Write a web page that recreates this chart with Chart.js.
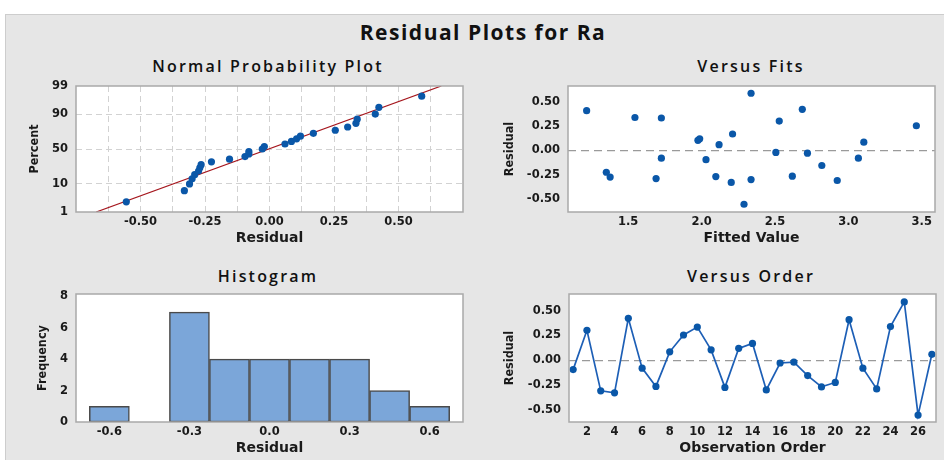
<!DOCTYPE html>
<html>
<head>
<meta charset="utf-8">
<script src="https://cdn.jsdelivr.net/npm/chart.js@4/dist/chart.umd.min.js"></script>
<style>
html,body{margin:0;padding:0;background:#fff;width:944px;height:460px;overflow:hidden;font-family:'Open Sans',sans-serif;}
#frame{position:absolute;left:5px;top:14px;width:939px;height:446px;background:#e6e6e6;border-top:1px solid #cdcdcd;border-left:1px solid #cdcdcd;box-sizing:border-box;}
.t{position:absolute;transform:translate(-50%,-50%);white-space:nowrap;color:#111;line-height:1;}
.main{font-size:21px;font-weight:700;letter-spacing:1.5px;}
.pt{font-size:16px;font-weight:600;letter-spacing:2.2px;}
canvas{position:absolute;}
</style>
</head>
<body>
<div id="frame"></div>
<div class="t main" style="left:483px;top:32px">Residual Plots for Ra</div>
<div class="t pt" style="left:268px;top:66px">Normal Probability Plot</div>
<div class="t pt" style="left:751px;top:66px">Versus Fits</div>
<div class="t pt" style="left:268px;top:276px">Histogram</div>
<div class="t pt" style="left:751px;top:276px">Versus Order</div>
<canvas id="c1" width="470" height="200" style="left:0px;top:50px;width:470px;height:200px"></canvas>
<canvas id="c2" width="474" height="200" style="left:470px;top:50px;width:474px;height:200px"></canvas>
<canvas id="c3" width="470" height="200" style="left:0px;top:260px;width:470px;height:200px"></canvas>
<canvas id="c4" width="474" height="200" style="left:470px;top:260px;width:474px;height:200px"></canvas>
<script>
// ---------- data ----------
const observations = [1,2,3,4,5,6,7,8,9,10,11,12,13,14,15,16,17,18,19,20,21,22,23,24,25,26,27];
const residuals = [-0.095,0.303,-0.31,-0.33,0.424,-0.08,-0.265,0.085,0.255,0.335,0.105,-0.275,0.12,0.17,-0.30,-0.028,-0.02,-0.155,-0.27,-0.225,0.41,-0.08,-0.29,0.34,0.59,-0.555,0.06];
const fittedValues = [2.03,2.529,2.924,2.202,2.686,1.726,2.618,3.105,3.463,1.726,1.975,1.377,1.987,2.211,2.337,2.721,2.506,2.819,2.097,1.351,1.217,3.068,1.690,1.546,2.337,2.289,2.119];
const histBinCenters = [-0.6,-0.45,-0.3,-0.15,0,0.15,0.3,0.45,0.6];
const histCounts = [1,0,7,4,4,4,4,2,1];

// ---------- tick labels ----------
const percentTicks = [1,10,50,90,99];
const normalXGrid = [-0.625,-0.5,-0.375,-0.25,-0.125,0,0.125,0.25,0.375,0.5,0.625];
const normalXLabels = [-0.5,-0.25,0,0.25,0.5];
const residualTicks = [-0.5,-0.25,0,0.25,0.5];
const fittedTicks = [1.5,2.0,2.5,3.0,3.5];
const histXTicks = [-0.6,-0.3,0,0.3,0.6];
const histYTicks = [0,2,4,6,8];
const orderTicks = [2,4,6,8,10,12,14,16,18,20,22,24,26];

// ---------- helpers ----------
function probit(p){
  const a=[-3.969683028665376e+01,2.209460984245205e+02,-2.759285104469687e+02,1.383577518672690e+02,-3.066479806614716e+01,2.506628277459239e+00];
  const b=[-5.447609879822406e+01,1.615858368580409e+02,-1.556989798598866e+02,6.680131188771972e+01,-1.328068155288572e+01];
  const c=[-7.784894002430293e-03,-3.223964580411365e-01,-2.400758277161838e+00,-2.549732539343734e+00,4.374664141464968e+00,2.938163982698783e+00];
  const d=[7.784695709041462e-03,3.224671290700398e-01,2.445134137142996e+00,3.754408661907416e+00];
  const pl=0.02425, ph=1-pl; let q,r;
  if(p<pl){q=Math.sqrt(-2*Math.log(p));return (((((c[0]*q+c[1])*q+c[2])*q+c[3])*q+c[4])*q+c[5])/((((d[0]*q+d[1])*q+d[2])*q+d[3])*q+1);}
  if(p<=ph){q=p-0.5;r=q*q;return (((((a[0]*r+a[1])*r+a[2])*r+a[3])*r+a[4])*r+a[5])*q/(((((b[0]*r+b[1])*r+b[2])*r+b[3])*r+b[4])*r+1);}
  q=Math.sqrt(-2*Math.log(1-p));return -(((((c[0]*q+c[1])*q+c[2])*q+c[3])*q+c[4])*q+c[5])/((((d[0]*q+d[1])*q+d[2])*q+d[3])*q+1);
}
const n = residuals.length;
const sortedRes = residuals.slice().sort((x,y)=>x-y);
// Benard median-rank plotting positions on a normal-probability scale
const normalPoints = sortedRes.map((r,i)=>({x:r, y:probit((i+1-0.3)/(n+0.4))}));
const mean = residuals.reduce((s,v)=>s+v,0)/n;
const sd = Math.sqrt(residuals.reduce((s,v)=>s+(v-mean)*(v-mean),0)/(n-1));
const zLo = probit(percentTicks[0]/100), zHi = probit(percentTicks[percentTicks.length-1]/100);
const normalLine = [{x:mean+sd*zLo,y:zLo},{x:mean+sd*zHi,y:zHi}];
const fitsPoints = fittedValues.map((f,i)=>({x:f,y:residuals[i]}));
const orderPoints = observations.map((o,i)=>({x:o,y:residuals[i]}));
const histData = histBinCenters.map((c,i)=>({x:c,y:histCounts[i]}));

// ---------- styling ----------
const tickFont = {family:'DejaVu Sans',size:11.5,weight:'700'};
const xTitleFont = {family:'DejaVu Sans',size:14,weight:'700'};
const yTitleFont = {family:"'Liberation Sans Narrow','DejaVu Sans Condensed','Open Sans'",size:12.5,weight:'700'};
const TXT = '#1a1a1a';
const POINT = '#0a57a8';

const framePlugin = {
  id:'frame',
  beforeDraw(chart){
    const {ctx, chartArea:a} = chart;
    ctx.save(); ctx.fillStyle='#ffffff'; ctx.fillRect(a.left,a.top,a.width,a.height); ctx.restore();
  },
  afterDraw(chart){
    const {ctx, chartArea:a} = chart;
    ctx.save(); ctx.strokeStyle='#a9a9a9'; ctx.lineWidth=1.5;
    ctx.strokeRect(a.left,a.top,a.width,a.height); ctx.restore();
  }
};

function xTicks(cb){return {autoSkip:false,maxRotation:0,padding:3.1,font:tickFont,color:TXT,callback:cb};}
function yTicks(cb){return {autoSkip:false,padding:8,font:tickFont,color:TXT,callback:cb};}
function xScale(o){
  return Object.assign({
    type:'linear',
    afterFit:s=>{s.height=38;},
    grid:{display:false,drawTicks:false},
    border:{display:false},
    title:{display:true,text:o.title,font:xTitleFont,color:TXT,padding:{top:0,bottom:2.9}}
  }, o.extra||{});
}
function yScale(o){
  return Object.assign({
    type:'linear',
    afterFit:s=>{s.width=o.width;},
    grid:{display:false,drawTicks:false},
    border:{display:false},
    title:{display:true,text:o.title,font:yTitleFont,color:TXT,padding:{top:o.tpad,bottom:0}}
  }, o.extra||{});
}
const base = {responsive:false,animation:false,events:[],plugins:{legend:{display:false},tooltip:{enabled:false}}};
const zeroLineGrid = {display:true,drawTicks:false,lineWidth:1.2,
  color:c=>(c.tick&&Math.abs(c.tick.value)<1e-9)?'#9a9a9a':'rgba(0,0,0,0)'};

// ---------- Normal probability plot ----------
new Chart(document.getElementById('c1'),{
  type:'scatter',
  data:{datasets:[
    {data:normalPoints,backgroundColor:POINT,borderColor:POINT,borderWidth:0,pointRadius:3.6},
    {data:normalLine,showLine:true,borderColor:'#a5161d',borderWidth:1.2,pointRadius:0}
  ]},
  options:Object.assign({},base,{
    layout:{padding:{left:0,top:36,right:7,bottom:0}},
    scales:{
      x:xScale({title:'Residual',extra:{
        min:-0.75,max:0.75,
        afterBuildTicks:s=>{s.ticks=normalXGrid.map(v=>({value:v}));},
        ticks:xTicks(v=>normalXLabels.some(l=>Math.abs(l-v)<1e-9)?v.toFixed(2):''),
        grid:{display:true,drawTicks:false,color:'#d2d2d2',lineWidth:1},
        border:{display:false,dash:[6,4]}
      }}),
      y:yScale({title:'Percent',width:76,tpad:27.5,extra:{
        min:zLo,max:zHi,
        afterBuildTicks:s=>{s.ticks=percentTicks.map(p=>({value:probit(p/100)}));},
        ticks:yTicks((v,i)=>String(percentTicks[i])),
        grid:{display:true,drawTicks:false,lineWidth:1,
          color:c=>(c.index===0||c.index===percentTicks.length-1)?'rgba(0,0,0,0)':'#d2d2d2'},
        border:{display:false,dash:[6,4]}
      }})
    }
  }),
  plugins:[framePlugin]
});

// ---------- Versus fits ----------
new Chart(document.getElementById('c2'),{
  type:'scatter',
  data:{datasets:[
    {data:fitsPoints,backgroundColor:POINT,borderColor:POINT,borderWidth:0,pointRadius:3.6}
  ]},
  options:Object.assign({},base,{
    layout:{padding:{left:0,top:36,right:9,bottom:0}},
    scales:{
      x:xScale({title:'Fitted Value',extra:{
        min:1.09,max:3.59,
        afterBuildTicks:s=>{s.ticks=fittedTicks.map(v=>({value:v}));},
        ticks:xTicks(v=>v.toFixed(1))
      }}),
      y:yScale({title:'Residual',width:98,tpad:32.5,extra:{
        min:-0.635,max:0.665,
        afterBuildTicks:s=>{s.ticks=residualTicks.map(v=>({value:v}));},
        ticks:yTicks(v=>v.toFixed(2)),
        grid:zeroLineGrid,
        border:{display:false,dash:[8,5]}
      }})
    }
  }),
  plugins:[framePlugin]
});

// ---------- Histogram ----------
new Chart(document.getElementById('c3'),{
  type:'bar',
  data:{datasets:[
    {data:histData,backgroundColor:'#7ba6d9',borderColor:'#4a4a4a',borderWidth:1.5,borderSkipped:false,
     barPercentage:1.0,categoryPercentage:1.0}
  ]},
  options:Object.assign({},base,{
    layout:{padding:{left:0,top:34,right:7,bottom:0}},
    scales:{
      x:xScale({title:'Residual',extra:{
        min:-0.725,max:0.725,offset:false,
        afterBuildTicks:s=>{s.ticks=histXTicks.map(v=>({value:v}));},
        ticks:xTicks(v=>v.toFixed(1))
      }}),
      y:yScale({title:'Frequency',width:76,tpad:35.5,extra:{
        min:0,max:8.15,
        afterBuildTicks:s=>{s.ticks=histYTicks.map(v=>({value:v}));},
        ticks:yTicks(v=>String(v))
      }})
    }
  }),
  plugins:[framePlugin]
});

// ---------- Versus order ----------
new Chart(document.getElementById('c4'),{
  type:'scatter',
  data:{datasets:[
    {data:orderPoints,showLine:true,borderColor:'#1d5fb6',borderWidth:1.7,
     pointBackgroundColor:POINT,pointBorderColor:POINT,pointBorderWidth:0,pointRadius:3.6}
  ]},
  options:Object.assign({},base,{
    layout:{padding:{left:0,top:34,right:8,bottom:0}},
    scales:{
      x:xScale({title:'Observation Order',extra:{
        min:0.7,max:27.3,
        afterBuildTicks:s=>{s.ticks=orderTicks.map(v=>({value:v}));},
        ticks:xTicks(v=>String(v))
      }}),
      y:yScale({title:'Residual',width:99,tpad:32.5,extra:{
        min:-0.625,max:0.67,
        afterBuildTicks:s=>{s.ticks=residualTicks.map(v=>({value:v}));},
        ticks:yTicks(v=>v.toFixed(2)),
        grid:zeroLineGrid,
        border:{display:false,dash:[8,5]}
      }})
    }
  }),
  plugins:[framePlugin]
});
</script>
</body>
</html>
